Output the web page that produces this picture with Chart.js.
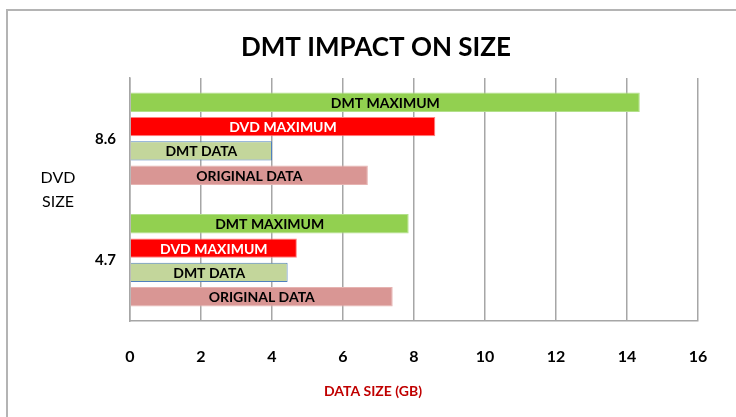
<!DOCTYPE html>
<html>
<head>
<meta charset="utf-8">
<script src="https://cdn.jsdelivr.net/npm/chart.js@4.4.1/dist/chart.umd.min.js"></script>
<style>
  html, body { margin: 0; padding: 0; background: #fff; }
  #wrap { position: relative; width: 736px; height: 417px; }
  #frame { position: absolute; left: 6px; top: 9px; right: -5px; bottom: -5px; border-top: 2px solid #b4b4b4; border-left: 2px solid #b4b4b4; }
  canvas { position: absolute; left: 0; top: 0; }
</style>
</head>
<body>
<div id="wrap">
  <div id="frame"></div>
  <canvas id="c" width="736" height="417"></canvas>
</div>
<script>
// categories (DVD size, top to bottom)
const dvdSizes = ['8.6', '4.7'];

// series, in drawing order top to bottom inside each group
const seriesNames = ['DMT MAXIMUM', 'DVD MAXIMUM', 'DMT DATA', 'ORIGINAL DATA'];
const dmtMaximum = [14.36, 7.85];
const dvdMaximum = [8.6, 4.7];
const dmtData = [4.0, 4.44];
const originalData = [6.7, 7.4];

const xTicks = [0, 2, 4, 6, 8, 10, 12, 14, 16];

const fills = ['#92d050', '#ff0000', '#c3d69b', '#d99694'];
const edges = ['#b2e08a', '#ff8080', '#4f81bd', '#e6b3b1'];
const textColors = ['#000', '#fff', '#000', '#000'];

const FONT = 'Lato, "Open Sans", sans-serif';

const barLabels = {
  id: 'barLabels',
  afterDatasetsDraw(chart) {
    const ctx = chart.ctx;
    ctx.save();
    ctx.font = 'bold 14px ' + FONT;
    ctx.textAlign = 'center';
    ctx.textBaseline = 'middle';
    chart.data.datasets.forEach((ds, i) => {
      const meta = chart.getDatasetMeta(i);
      meta.data.forEach(bar => {
        ctx.fillStyle = textColors[i];
        ctx.fillText(ds.label, (bar.x + bar.base) / 2, bar.y + 1);
      });
    });
    ctx.restore();
  }
};

const extraText = {
  id: 'extraText',
  afterDraw(chart) {
    const ctx = chart.ctx;
    ctx.save();
    ctx.textAlign = 'center';
    ctx.textBaseline = 'middle';
    ctx.fillStyle = '#000';
    ctx.font = 'bold 26px ' + FONT;
    ctx.fillText('DMT IMPACT ON SIZE', 376, 48);
    ctx.font = '16px ' + FONT;
    ctx.fillText('DVD', 58, 178);
    ctx.fillText('SIZE', 58, 202);
    ctx.fillStyle = '#c00000';
    ctx.font = 'bold 14px ' + FONT;
    ctx.fillText('DATA SIZE (GB)', 373, 391);
    ctx.restore();
  }
};

const seriesValues = [dmtMaximum, dvdMaximum, dmtData, originalData];

new Chart(document.getElementById('c'), {
  type: 'bar',
  data: {
    labels: dvdSizes,
    datasets: seriesNames.map((name, i) => ({
      label: name,
      data: seriesValues[i],
      backgroundColor: fills[i],
      borderColor: edges[i],
      borderWidth: 1,
      categoryPercentage: 0.8,
      barPercentage: 0.8
    }))
  },
  options: {
    indexAxis: 'y',
    responsive: false,
    animation: false,
    layout: { padding: { top: 78, right: 38, left: 0, bottom: 0 } },
    plugins: {
      legend: { display: false },
      title: { display: false },
      tooltip: { enabled: false }
    },
    scales: {
      x: {
        min: 0,
        max: 16,
        afterBuildTicks(scale) { scale.ticks = xTicks.map(v => ({ value: v })); },
        afterFit(scale) { scale.height = 96; },
        grid: { color: '#a6a6a6', lineWidth: 1.5, drawTicks: false },
        border: { color: '#a6a6a6', width: 1.5 },
        ticks: { color: '#000', padding: 26, font: { family: FONT, size: 16, weight: 'bold' } }
      },
      y: {
        afterFit(scale) { scale.width = 130; },
        grid: { display: false, drawTicks: false },
        border: { color: '#a6a6a6', width: 1.5 },
        ticks: { color: '#000', padding: 14, font: { family: FONT, size: 15, weight: 'bold' } }
      }
    }
  },
  plugins: [barLabels, extraText]
});
</script>
</body>
</html>
